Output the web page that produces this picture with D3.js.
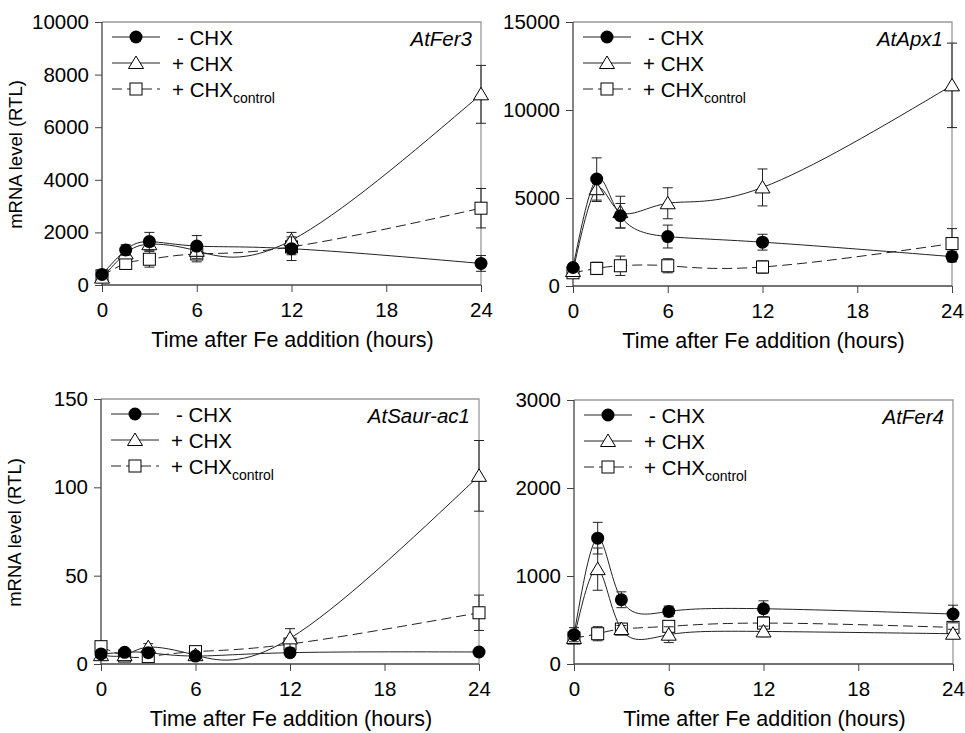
<!DOCTYPE html>
<html>
<head>
<meta charset="utf-8">
<script src="https://cdn.jsdelivr.net/npm/d3@7"></script>
<style>
  body { margin: 0; background: #fff; }
  text { font-family: Arial, "Liberation Sans", sans-serif; fill: #000; }
</style>
</head>
<body>
<div id="chart"></div>
<script>
// time points (hours after Fe addition)
var times = [0, 1.5, 3, 6, 12, 24];
var xTicks = [0, 6, 12, 18, 24];

var genes = ["AtFer3", "AtApx1", "AtSaur-ac1", "AtFer4"];
var yMaxes = [10000, 15000, 150, 3000];
var yTickSets = [
    [0, 2000, 4000, 6000, 8000, 10000],
    [0, 5000, 10000, 15000],
    [0, 50, 100, 150],
    [0, 1000, 2000, 3000]
];

var seriesNames = ["- CHX", "+ CHX", "+ CHX"];

// AtFer3
var fer3Minus = [400, 1330, 1650, 1480, 1380, 820];
var fer3MinusErr = [120, 200, 350, 400, 450, 300];
var fer3Plus = [280, 1200, 1550, 1300, 1700, 7250];
var fer3PlusErr = [100, 150, 200, 300, 300, 1100];
var fer3Ctrl = [350, 820, 980, 1180, 1450, 2920];
var fer3CtrlErr = [100, 200, 300, 300, 300, 750];

// AtApx1
var apxMinus = [1050, 6080, 3990, 2810, 2490, 1670];
var apxMinusErr = [200, 1200, 700, 650, 450, 300];
var apxPlus = [850, 5500, 4200, 4700, 5600, 11400];
var apxPlusErr = [150, 700, 900, 880, 1050, 2400];
var apxCtrl = [750, 1000, 1150, 1150, 1080, 2410];
var apxCtrlErr = [300, 350, 550, 400, 350, 850];

// AtSaur-ac1
var saurMinus = [5.7, 6.6, 6.4, 4.5, 6.4, 6.8];
var saurMinusErr = [1, 1, 1, 1, 1, 1];
var saurPlus = [5, 5, 9.5, 5, 14.5, 106.5];
var saurPlusErr = [1, 1, 2, 1, 5.5, 20];
var saurCtrl = [9.8, 4.5, 4.2, 7, 11.3, 29];
var saurCtrlErr = [2, 1, 1, 1, 2, 10];

// AtFer4
var fer4Minus = [333, 1430, 730, 598, 628, 568];
var fer4MinusErr = [80, 180, 90, 60, 90, 100];
var fer4Plus = [295, 1078, 397, 333, 370, 344];
var fer4PlusErr = [50, 240, 40, 90, 60, 50];
var fer4Ctrl = [295, 344, 397, 428, 465, 416];
var fer4CtrlErr = [40, 80, 40, 50, 50, 40];

var panelData = [
    [[fer3Ctrl, fer3CtrlErr], [fer3Plus, fer3PlusErr], [fer3Minus, fer3MinusErr]],
    [[apxCtrl, apxCtrlErr], [apxPlus, apxPlusErr], [apxMinus, apxMinusErr]],
    [[saurCtrl, saurCtrlErr], [saurPlus, saurPlusErr], [saurMinus, saurMinusErr]],
    [[fer4Ctrl, fer4CtrlErr], [fer4Plus, fer4PlusErr], [fer4Minus, fer4MinusErr]]
];

// panel boxes: left, right, top, bottom
var boxes = [
    [102, 481, 22, 285],
    [573, 952, 22, 286],
    [101, 479, 399, 664],
    [574, 953, 400, 664]
];

var svg = d3.select("#chart").append("svg")
    .attr("width", 965)
    .attr("height", 733);

function drawMarker(g, kind, x, y) {
    if (kind == 2) {
        g.append("circle").attr("cx", x).attr("cy", y).attr("r", 6.5)
            .attr("fill", "#000");
    } else if (kind == 1) {
        g.append("path")
            .attr("d", "M" + x + "," + (y - 7) + " L" + (x + 7.5) + "," + (y + 5.5) +
                  " L" + (x - 7.5) + "," + (y + 5.5) + " Z")
            .attr("fill", "#fff").attr("stroke", "#000").attr("stroke-width", 1);
    } else {
        g.append("rect").attr("x", x - 6).attr("y", y - 6)
            .attr("width", 12).attr("height", 12)
            .attr("fill", "#fff").attr("stroke", "#000").attr("stroke-width", 1);
    }
}

function drawPanel(p) {
    var b = boxes[p];
    var x = d3.scaleLinear().domain([0, 24]).range([b[0], b[1]]);
    var y = d3.scaleLinear().domain([0, yMaxes[p]]).range([b[3], b[2]]);
    var g = svg.append("g");

    // frame top/right
    g.append("path")
        .attr("d", "M" + b[0] + "," + b[2] + " H" + b[1] + " V" + b[3])
        .attr("fill", "none").attr("stroke", "#999").attr("stroke-width", 1.3);

    var xAxis = g.append("g").attr("transform", "translate(0," + b[3] + ")")
        .call(d3.axisBottom(x).tickValues(xTicks).tickSize(7).tickPadding(8).tickFormat(d3.format("d")));
    var yAxis = g.append("g").attr("transform", "translate(" + b[0] + ",0)")
        .call(d3.axisLeft(y).tickValues(yTickSets[p]).tickSize(7).tickPadding(6).tickFormat(d3.format("d")));
    [xAxis, yAxis].forEach(function(a) {
        a.select(".domain").attr("stroke", "#444").attr("stroke-width", 1.3);
        a.selectAll(".tick line").attr("stroke", "#444");
        a.selectAll(".tick text").style("font-size", "20.5px").attr("fill", "#000");
    });
    xAxis.selectAll(".tick text").attr("dy", "0.85em");
    yAxis.select(".domain").attr("d", "M0," + b[3] + "V" + b[2]);
    xAxis.select(".domain").attr("d", "M" + b[0] + ",0H" + b[1]);

    // axis titles
    g.append("text")
        .attr("x", (b[0] + b[1]) / 2 + 1)
        .attr("y", b[3] + 62)
        .attr("text-anchor", "middle")
        .style("font-size", "21.5px")
        .text("Time after Fe addition (hours)");
    if (p % 2 == 0) {
        g.append("text")
            .attr("transform", "translate(" + (b[0] - 80) + "," + ((b[2] + b[3]) / 2 + 1) + ") rotate(-90)")
            .attr("text-anchor", "middle")
            .style("font-size", "18.5px")
            .text("mRNA level (RTL)");
    }

    var line = d3.line()
        .x(function(d) { return x(d.t); })
        .y(function(d) { return y(d.v); })
        .curve(d3.curveNatural);

    panelData[p].forEach(function(s, k) {
        var pts = times.map(function(t, i) { return { t: t, v: s[0][i], e: s[1][i] }; });
        // error bars
        pts.forEach(function(d) {
            var cx = x(d.t);
            g.append("path")
                .attr("d", "M" + cx + "," + y(d.v - d.e) + " V" + y(d.v + d.e) +
                      " M" + (cx - 5) + "," + y(d.v - d.e) + " H" + (cx + 5) +
                      " M" + (cx - 5) + "," + y(d.v + d.e) + " H" + (cx + 5))
                .attr("fill", "none").attr("stroke", "#222").attr("stroke-width", 1);
        });
        g.append("path")
            .datum(pts)
            .attr("d", line)
            .attr("fill", "none")
            .attr("stroke", "#222")
            .attr("stroke-width", 1)
            .attr("stroke-dasharray", k == 0 ? "10,5" : null);
        pts.forEach(function(d) { drawMarker(g, k, x(d.t), y(d.v)); });
    });

    // legend
    var lx = b[0] + 10;
    var rows = [2, 1, 0];
    rows.forEach(function(k, r) {
        var ly = b[2] + 15 + r * 26;
        g.append("line")
            .attr("x1", lx).attr("x2", lx + 48).attr("y1", ly).attr("y2", ly)
            .attr("stroke", "#222").attr("stroke-width", 1)
            .attr("stroke-dasharray", k == 0 ? "10,5" : null);
        drawMarker(g, k, lx + 24, ly);
        var t = g.append("text")
            .attr("x", lx + (k == 2 ? 65 : 60))
            .attr("y", ly + 7.5)
            .style("font-size", "20.5px")
            .text(seriesNames[2 - k]);
        if (k == 0) {
            t.append("tspan").attr("dy", 6).style("font-size", "14px").text("control");
        }
    });

    g.append("text")
        .attr("x", b[1] - 9)
        .attr("y", b[2] + 24)
        .attr("text-anchor", "end")
        .style("font-size", "20.5px")
        .style("font-style", "italic")
        .text(genes[p]);
}

for (var p = 0; p < 4; p++) drawPanel(p);
</script>
</body>
</html>
